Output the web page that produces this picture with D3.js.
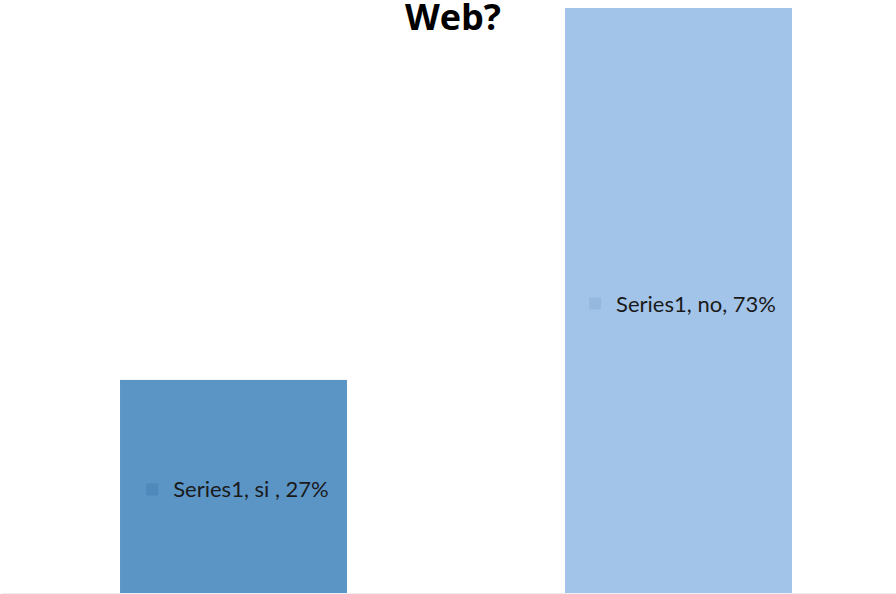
<!DOCTYPE html>
<html>
<head>
<meta charset="utf-8">
<script src="https://cdn.jsdelivr.net/npm/d3@7"></script>
<style>
  html, body { margin: 0; padding: 0; background: #ffffff; }
  svg { display: block; }
</style>
</head>
<body>
<svg id="chart" width="896" height="594"></svg>
<script>
// ---- data ----
const categories = ["si ", "no"];
const seriesName = "Series1";
const values = [26.7, 73.3];
const barColors = ["#5b95c6", "#a3c4e9"];
const markerColors = ["#4f88bb", "#95b8de"];
const titleText = "Web?";

// ---- layout ----
const W = 896, H = 594;
const svg = d3.select("#chart");

const x = d3.scaleBand()
  .domain(categories)
  .range([11, 901])
  .paddingInner(0.49)
  .paddingOuter(0.245);

const y = d3.scaleLinear()
  .domain([0, d3.max(values)])
  .range([593, 8]);

const labelOf = (d, i) => `${seriesName}, ${categories[i]}, ${Math.round(d)}%`;

// baseline
svg.append("line")
  .attr("x1", 2).attr("x2", W)
  .attr("y1", y(0) + 0.5).attr("y2", y(0) + 0.5)
  .attr("stroke", "#eeeeee").attr("stroke-width", 1);

// bars
svg.selectAll("rect.bar")
  .data(values)
  .join("rect")
  .attr("class", "bar")
  .attr("x", (d, i) => x(categories[i]))
  .attr("y", d => y(d))
  .attr("width", x.bandwidth())
  .attr("height", d => y(0) - y(d))
  .attr("fill", (d, i) => barColors[i]);

// labels
const lg = svg.selectAll("g.lbl")
  .data(values)
  .join("g")
  .attr("class", "lbl");

lg.each(function(d, i) {
  const g = d3.select(this);
  const cx = x(categories[i]) + x.bandwidth() / 2;
  const cy = (y(d) + y(0)) / 2 + 3;
  const t = g.append("text")
    .attr("font-family", "Lato, 'Open Sans', sans-serif")
    .attr("font-size", 22)
    .attr("fill", "#1a1a1a")
    .text(labelOf(d, i));
  const tw = t.node().getComputedTextLength();
  const ms = 12, gap = 15;
  const total = ms + gap + tw;
  const x0 = cx - total / 2 + 4;
  g.append("rect")
    .attr("x", x0).attr("y", cy - ms / 2)
    .attr("width", ms).attr("height", ms)
    .attr("fill", markerColors[i]);
  t.attr("x", x0 + ms + gap).attr("y", cy + 8);
});

// title
svg.append("text")
  .attr("x", 453)
  .attr("y", 30)
  .attr("text-anchor", "middle")
  .attr("font-family", "'Open Sans', 'Noto Sans', sans-serif")
  .attr("font-weight", "bold")
  .attr("font-size", 36)
  .attr("fill", "#000000")
  .text(titleText);
</script>
</body>
</html>
